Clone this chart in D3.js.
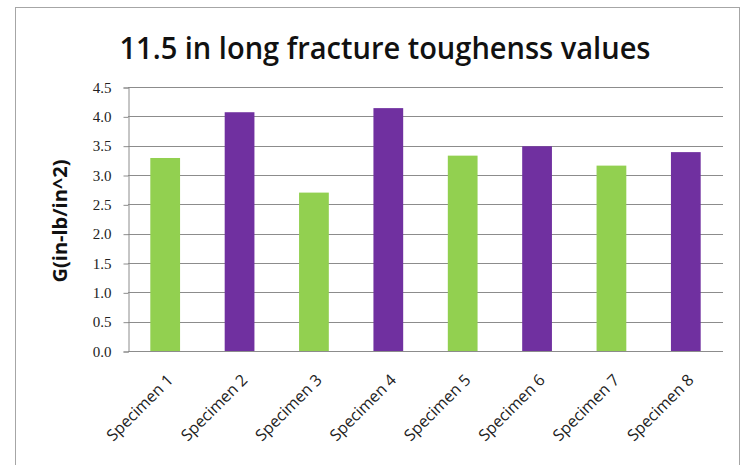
<!DOCTYPE html>
<html>
<head>
<meta charset="utf-8">
<style>
  body { margin: 0; background: #fff; }
  svg { display: block; }
</style>
</head>
<body>
<svg width="743" height="465"></svg>
<script src="https://d3js.org/d3.v7.min.js"></script>
<script>

    var specimens = ["Specimen 1", "Specimen 2", "Specimen 3", "Specimen 4",
                     "Specimen 5", "Specimen 6", "Specimen 7", "Specimen 8"];
    var toughness = [3.29, 4.07, 2.70, 4.14, 3.33, 3.49, 3.16, 3.39];
    var yTicks = [0, 0.5, 1, 1.5, 2, 2.5, 3, 3.5, 4, 4.5];
    var barColors = ["#92d050", "#7030a0"];

    var svg = d3.select("svg"),
        width = +svg.attr("width"),
        height = +svg.attr("height");

    var margin = {left: 128, right: 20, top: 87, bottom: 114};

    // chart frame
    svg.append("rect")
        .attr("x", 15.5).attr("y", 7.5)
        .attr("width", 724).attr("height", 480)
        .attr("fill", "#fff")
        .attr("stroke", "#a6a6a6");

    var x = d3.scaleBand()
        .domain(specimens)
        .range([margin.left, 723])
        .paddingInner(0.6)
        .paddingOuter(0.3);

    var y = d3.scaleLinear()
        .domain([0, 4.5])
        .range([351, margin.top]);

    // grid lines
    svg.append("g")
        .selectAll("line")
        .data(yTicks.slice(1))
        .enter().append("line")
        .attr("x1", margin.left).attr("x2", 723)
        .attr("y1", function(d) { return Math.round(y(d)) + 0.5; })
        .attr("y2", function(d) { return Math.round(y(d)) + 0.5; })
        .attr("stroke", "#8c8c8c")
        .attr("stroke-width", 1);

    // bars
    svg.append("g")
        .selectAll("rect")
        .data(toughness)
        .enter().append("rect")
        .attr("x", function(d, i) { return x(specimens[i]); })
        .attr("width", x.bandwidth())
        .attr("y", function(d) { return y(d); })
        .attr("height", function(d) { return y(0) - y(d); })
        .attr("fill", function(d, i) { return barColors[i % 2]; });

    // y axis
    var yAxis = svg.append("g")
        .attr("transform", "translate(" + (margin.left + 0.5) + ",0.5)")
        .call(d3.axisLeft(y)
            .tickValues(yTicks)
            .tickFormat(d3.format(".1f"))
            .tickSize(5)
            .tickPadding(12));
    yAxis.select(".domain").attr("stroke", "#8c8c8c");
    yAxis.selectAll(".tick line").attr("stroke", "#8c8c8c");
    yAxis.selectAll(".tick text")
        .attr("font-family", "'Liberation Serif', serif")
        .attr("font-size", 15)
        .attr("fill", "#222");

    // x axis line
    svg.append("line")
        .attr("x1", margin.left).attr("x2", 723)
        .attr("y1", Math.round(y(0)) + 0.5).attr("y2", Math.round(y(0)) + 0.5)
        .attr("stroke", "#8c8c8c");

    // x labels
    svg.append("g")
        .selectAll("text")
        .data(specimens)
        .enter().append("text")
        .attr("transform", function(d) {
            return "translate(" + (x(d) + x.bandwidth() / 2 + 9) + "," + 381 + ") rotate(-45)";
        })
        .attr("text-anchor", "end")
        .attr("font-family", "'Open Sans', sans-serif")
        .attr("font-size", 16)
        .attr("fill", "#222")
        .text(function(d) { return d; });

    // y axis title
    svg.append("text")
        .attr("transform", "translate(67,221) rotate(-90)")
        .attr("text-anchor", "middle")
        .attr("font-family", "'Open Sans', sans-serif")
        .attr("font-weight", "bold")
        .attr("font-size", 20)
        .attr("fill", "#111")
        .text("G(in-lb/in^2)");

    // title
    svg.append("text")
        .attr("x", 385).attr("y", 59)
        .attr("text-anchor", "middle")
        .attr("font-family", "'Open Sans', sans-serif")
        .attr("font-weight", 600)
        .attr("font-size", 31)
        .attr("fill", "#111")
        .attr("textLength", 531)
        .attr("lengthAdjust", "spacingAndGlyphs")
        .text("11.5 in long fracture toughenss values");

</script>
</body>
</html>
